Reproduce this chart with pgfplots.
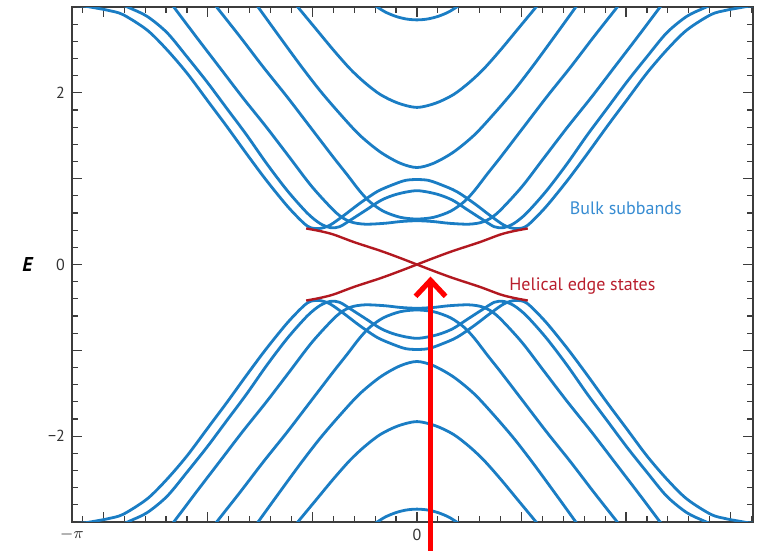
\documentclass[border=0pt]{standalone}
\usepackage{fontspec}
\setmainfont{PT Sans}
\usepackage{pgfplots}
\pgfplotsset{compat=1.18}
\usepackage{pgfplotstable}
\usetikzlibrary{arrows.meta}

\definecolor{bandblue}{RGB}{26,125,196}
\definecolor{bulktxt}{RGB}{55,140,210}
\definecolor{edgered}{RGB}{178,24,32}
\definecolor{edgetxt}{RGB}{185,30,45}
\definecolor{arrowred}{RGB}{255,0,0}
\definecolor{framegray}{RGB}{60,60,60}

% conduction bands (up) and their valence partners (dn)
\pgfplotstableread{
k up dn
-3.30 3.02 -3.02
-3.18 3.01 -3.01
-3.08 2.99 -2.99
-2.95 2.96 -2.96
-2.81 2.91 -2.91
-2.58 2.73 -2.73
-2.39 2.50 -2.50
-2.20 2.23 -2.23
-2.01 1.92 -1.92
-1.82 1.61 -1.61
-1.63 1.29 -1.29
-1.44 0.98 -0.98
-1.24 0.68 -0.68
-1.09 0.49 -0.49
-1.02 0.43 -0.43
-0.93 0.42 -0.42
-0.83 0.46 -0.46
-0.69 0.58 -0.58
-0.55 0.71 -0.71
-0.38 0.85 -0.85
-0.23 0.93 -0.93
-0.11 0.98 -0.98
0.00 0.99 -0.99
0.11 0.98 -0.98
0.23 0.93 -0.93
0.38 0.85 -0.85
0.55 0.71 -0.71
0.69 0.58 -0.58
0.83 0.46 -0.46
0.93 0.42 -0.42
1.02 0.43 -0.43
1.09 0.49 -0.49
1.24 0.68 -0.68
1.44 0.98 -0.98
1.63 1.29 -1.29
1.82 1.61 -1.61
2.01 1.92 -1.92
2.20 2.23 -2.23
2.39 2.50 -2.50
2.58 2.73 -2.73
2.81 2.91 -2.91
2.95 2.96 -2.96
3.08 2.99 -2.99
3.18 3.01 -3.01
3.30 3.02 -3.02
}\bandA

\pgfplotstableread{
k up dn
-2.90 3.07 -3.07
-2.75 2.99 -2.99
-2.58 2.89 -2.89
-2.39 2.70 -2.70
-2.20 2.42 -2.42
-2.01 2.13 -2.13
-1.82 1.82 -1.82
-1.63 1.51 -1.51
-1.44 1.18 -1.18
-1.24 0.86 -0.86
-1.05 0.60 -0.60
-0.93 0.48 -0.48
-0.83 0.43 -0.43
-0.74 0.44 -0.44
-0.62 0.53 -0.53
-0.48 0.64 -0.64
-0.34 0.75 -0.75
-0.19 0.82 -0.82
0.00 0.86 -0.86
0.19 0.82 -0.82
0.34 0.75 -0.75
0.48 0.64 -0.64
0.62 0.53 -0.53
0.74 0.44 -0.44
0.83 0.43 -0.43
0.93 0.48 -0.48
1.05 0.60 -0.60
1.24 0.86 -0.86
1.44 1.18 -1.18
1.63 1.51 -1.51
1.82 1.82 -1.82
2.01 2.13 -2.13
2.20 2.42 -2.42
2.39 2.70 -2.70
2.58 2.89 -2.89
2.75 2.99 -2.99
2.90 3.07 -3.07
}\bandB

\pgfplotstableread{
k up dn
-1.98 3.10 -3.10
-1.91 2.99 -2.99
-1.69 2.65 -2.65
-1.47 2.30 -2.30
-1.24 1.95 -1.95
-1.02 1.60 -1.60
-0.80 1.25 -1.25
-0.67 1.05 -1.05
-0.55 0.86 -0.86
-0.45 0.73 -0.73
-0.32 0.62 -0.62
-0.16 0.55 -0.55
0.00 0.53 -0.53
0.16 0.55 -0.55
0.32 0.62 -0.62
0.45 0.73 -0.73
0.55 0.86 -0.86
0.67 1.05 -1.05
0.80 1.25 -1.25
1.02 1.60 -1.60
1.24 1.95 -1.95
1.47 2.30 -2.30
1.69 2.65 -2.65
1.91 2.99 -2.99
1.98 3.10 -3.10
}\bandC

\pgfplotstableread{
k up dn
-2.39 3.10 -3.10
-2.32 2.99 -2.99
-2.11 2.65 -2.65
-1.89 2.30 -2.30
-1.67 1.95 -1.95
-1.44 1.60 -1.60
-1.22 1.25 -1.25
-1.00 0.90 -0.90
-0.77 0.60 -0.60
-0.64 0.50 -0.50
-0.50 0.47 -0.47
-0.31 0.48 -0.48
-0.16 0.50 -0.50
0.00 0.51 -0.51
0.16 0.50 -0.50
0.31 0.48 -0.48
0.50 0.47 -0.47
0.64 0.50 -0.50
0.77 0.60 -0.60
1.00 0.90 -0.90
1.22 1.25 -1.25
1.44 1.60 -1.60
1.67 1.95 -1.95
1.89 2.30 -2.30
2.11 2.65 -2.65
2.32 2.99 -2.99
2.39 3.10 -3.10
}\bandD

\pgfplotstableread{
k up dn
-1.58 3.10 -3.10
-1.52 3.00 -3.00
-1.36 2.73 -2.73
-1.12 2.33 -2.33
-0.93 2.03 -2.03
-0.74 1.76 -1.76
-0.55 1.51 -1.51
-0.35 1.31 -1.31
-0.16 1.18 -1.18
0.00 1.13 -1.13
0.16 1.18 -1.18
0.35 1.31 -1.31
0.55 1.51 -1.51
0.74 1.76 -1.76
0.93 2.03 -2.03
1.12 2.33 -2.33
1.36 2.73 -2.73
1.52 3.00 -3.00
1.58 3.10 -3.10
}\bandE

\pgfplotstableread{
k up dn
-1.20 3.09 -3.09
-1.14 3.00 -3.00
-0.97 2.75 -2.75
-0.80 2.50 -2.50
-0.64 2.28 -2.28
-0.50 2.12 -2.12
-0.35 1.98 -1.98
-0.18 1.88 -1.88
0.00 1.83 -1.83
0.18 1.88 -1.88
0.35 1.98 -1.98
0.50 2.12 -2.12
0.64 2.28 -2.28
0.80 2.50 -2.50
0.97 2.75 -2.75
1.14 3.00 -3.00
1.20 3.09 -3.09
}\bandF

\pgfplotstableread{
k up dn
-0.45 3.06 -3.06
-0.38 3.00 -3.00
-0.30 2.94 -2.94
-0.20 2.89 -2.89
-0.10 2.86 -2.86
0.00 2.85 -2.85
0.10 2.86 -2.86
0.20 2.89 -2.89
0.30 2.94 -2.94
0.38 3.00 -3.00
0.45 3.06 -3.06
}\bandT

% helical edge states
\pgfplotstableread{
k up dn
-1.06 0.42 -0.42
-0.93 0.39 -0.39
-0.80 0.35 -0.35
-0.60 0.26 -0.26
-0.35 0.16 -0.16
-0.17 0.08 -0.08
0.00 0.00 0.00
0.17 -0.08 0.08
0.35 -0.16 0.16
0.60 -0.26 0.26
0.80 -0.35 0.35
0.93 -0.39 0.39
1.06 -0.42 0.42
}\edgestates

\begin{document}
\begin{tikzpicture}
\useasboundingbox (-36pt,-14.5pt) rectangle (344pt,261pt);
\begin{axis}[
    at={(0,0)}, anchor=south west,
    scale only axis,
    width=340.5pt, height=257.5pt,
    xmin=-3.30, xmax=3.215,
    ymin=-3, ymax=3,
    clip mode=individual,
    axis line style={draw=framegray, line width=0.7pt},
    tick align=inside,
    major tick length=5pt,
    minor tick length=2.8pt,
    tick style={draw=framegray, line width=0.6pt},
    xtick={-3,-2,-1,0,1,2,3},
    xticklabels={,,,0,,,},
    extra x ticks={-3.30},
    extra x tick labels={$-\pi$},
    extra x tick style={major tick length=0pt},
    minor xtick={-3.2,-2.8,-2.6,-2.4,-2.2,-1.8,-1.6,-1.4,-1.2,-0.8,-0.6,-0.4,-0.2,
                 0.2,0.4,0.6,0.8,1.2,1.4,1.6,1.8,2.2,2.4,2.6,2.8,3.2},
    ytick={-2,-1,0,1,2},
    yticklabels={−2,,0,,2},
    minor ytick={-2.8,-2.6,-2.4,-2.2,-1.8,-1.6,-1.4,-1.2,-0.8,-0.6,-0.4,-0.2,
                 0.2,0.4,0.6,0.8,1.2,1.4,1.6,1.8,2.2,2.4,2.6,2.8},
    tick label style={font=\fontsize{8}{9.6}\selectfont, text=black!80},
    ylabel={\textbf{\textit{E}}},
    every axis y label/.style={at={(rel axis cs:0,0.5)}, anchor=center,
        xshift=-22pt, font=\fontsize{10}{12}\selectfont},
    band/.style={no markers, smooth, line width=1.4pt, color=bandblue},
    edge/.style={no markers, smooth, line width=1.2pt, color=edgered},
]
\addplot[band] table[x=k,y=up]{\bandA};
\addplot[band] table[x=k,y=dn]{\bandA};
\addplot[band] table[x=k,y=up]{\bandB};
\addplot[band] table[x=k,y=dn]{\bandB};
\addplot[band] table[x=k,y=up]{\bandC};
\addplot[band] table[x=k,y=dn]{\bandC};
\addplot[band] table[x=k,y=up]{\bandD};
\addplot[band] table[x=k,y=dn]{\bandD};
\addplot[band] table[x=k,y=up]{\bandE};
\addplot[band] table[x=k,y=dn]{\bandE};
\addplot[band] table[x=k,y=up]{\bandF};
\addplot[band] table[x=k,y=dn]{\bandF};
\addplot[band] table[x=k,y=up]{\bandT};
\addplot[band] table[x=k,y=dn]{\bandT};

\addplot[edge] table[x=k,y=up]{\edgestates};
\addplot[edge] table[x=k,y=dn]{\edgestates};

\node[anchor=west, inner sep=0pt, text=bulktxt, font=\fontsize{9}{11}\selectfont]
    at (axis cs:1.46,0.66) {Bulk subbands};
\node[anchor=west, inner sep=0pt, text=edgetxt, font=\fontsize{9}{11}\selectfont]
    at (axis cs:0.88,-0.25) {Helical edge states};

\draw[arrowred, line width=2.6pt, -{Straight Barb[length=8pt,width=15pt]}]
    (axis cs:0.13,-3.5) -- (axis cs:0.13,-0.14);
\end{axis}
\end{tikzpicture}
\end{document}
